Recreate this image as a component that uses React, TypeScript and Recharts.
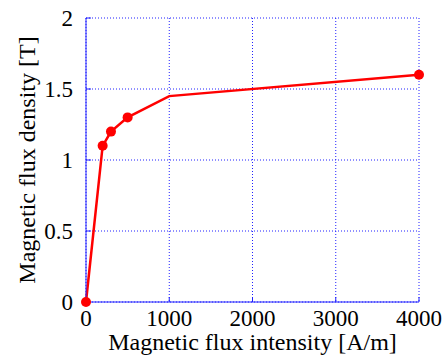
import { LineChart, Line, XAxis, YAxis, CartesianGrid } from "recharts";

// B-H curve
const intensity = [0, 200, 300, 500, 1000, 4000];
const density = [0, 1.1, 1.2, 1.3, 1.45, 1.6];
const unmarked = [1000];

const xTicks = [0, 1000, 2000, 3000, 4000];
const yTicks = [0, 0.5, 1, 1.5, 2];

const data = intensity.map((h, i) => ({ h, b: density[i] }));

const blue = "#2020ff";
const font = "'Liberation Serif', 'Times New Roman', serif";

const renderDot = (props: any) => {
  const { cx, cy, payload, index } = props;
  if (unmarked.includes(payload.h)) return <g key={index} />;
  return <circle key={index} cx={cx} cy={cy} r={5} fill="#ff0000" />;
};

export default function App() {
  return (
    <div style={{ position: "absolute", left: 0, top: 0 }}>
      <LineChart
        width={444}
        height={355}
        data={data}
        margin={{ top: 18, right: 25, bottom: 0, left: 0 }}
      >
        <CartesianGrid stroke={blue} strokeDasharray="1 2" strokeWidth={1} />
        <XAxis
          dataKey="h"
          type="number"
          domain={[0, 4000]}
          ticks={xTicks}
          stroke={blue}
          tickSize={-5}
          tickMargin={13}
          height={53}
          tick={{ fill: "#000", fontSize: 23, fontFamily: font }}
          label={{
            value: "Magnetic flux intensity [A/m]",
            position: "insideBottom",
            offset: 5,
            fill: "#000",
            fontSize: 24,
            fontFamily: font,
          }}
        />
        <XAxis
          xAxisId="top"
          orientation="top"
          dataKey="h"
          type="number"
          domain={[0, 4000]}
          ticks={xTicks}
          stroke={blue}
          tick={false}
          tickSize={-5}
          height={0}
        />
        <YAxis
          type="number"
          domain={[0, 2]}
          ticks={yTicks}
          stroke={blue}
          tickSize={-5}
          tickMargin={18}
          width={86}
          tick={{ fill: "#000", fontSize: 23, fontFamily: font }}
          label={{
            value: "Magnetic flux density [T]",
            angle: -90,
            position: "insideLeft",
            offset: 26,
            style: { textAnchor: "middle" },
            fill: "#000",
            fontSize: 24,
            fontFamily: font,
          }}
        />
        <YAxis
          yAxisId="right"
          orientation="right"
          type="number"
          domain={[0, 2]}
          ticks={yTicks}
          stroke={blue}
          tick={false}
          tickSize={-5}
          width={0}
        />
        <Line
          dataKey="b"
          stroke="#ff0000"
          strokeWidth={2.5}
          dot={renderDot}
          isAnimationActive={false}
        />
      </LineChart>
    </div>
  );
}
